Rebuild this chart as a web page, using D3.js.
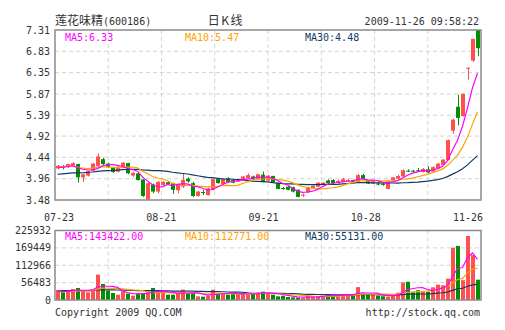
<!DOCTYPE html>
<html>
<head>
<meta charset="utf-8">
<script src="https://cdn.jsdelivr.net/npm/d3@7"></script>
<style>
  html, body { margin: 0; padding: 0; background: #fff; }
  svg { display: block; }
  .mono { font-family: "DejaVu Sans Mono", "Liberation Mono", monospace; font-size: 10px; }
  .cjk { font-family: "Noto Sans CJK SC", sans-serif; font-size: 12px; }
</style>
</head>
<body>
<svg id="chart" width="505" height="330"></svg>
<script>
// 莲花味精 (600186) daily K-line, 2009-07-23 .. 2009-11-26 (85 sessions)
const openP = [
  4.19, 4.24, 4.22, 4.26, 4.29, 3.99, 4.03, 4.14, 4.25, 4.40,
  4.30, 4.21, 4.12, 4.22, 4.31, 4.03, 4.08, 3.94, 3.49, 3.83,
  3.67, 3.82, 3.88, 3.86, 3.70, 3.78, 3.96, 3.86, 3.57, 3.66,
  3.59, 3.71, 3.95, 3.84, 3.97, 3.93, 3.90, 3.93, 3.97, 4.01,
  3.95, 4.05, 3.92, 4.02, 3.86, 3.75, 3.78, 3.77, 3.71, 3.59,
  3.65, 3.74, 3.78, 3.82, 3.92, 3.93, 3.86, 3.89, 3.90, 3.93,
  3.89, 4.04, 3.92, 3.85, 3.85, 3.85, 3.73, 3.93, 3.96, 4.01,
  4.14, 4.14, 4.15, 4.11, 4.17, 4.12, 4.19, 4.27, 4.38, 5.04,
  5.58, 5.37, 6.46, 6.62, 7.31
];
const highP = [
  4.27, 4.27, 4.30, 4.33, 4.30, 4.07, 4.14, 4.31, 4.53, 4.43,
  4.32, 4.23, 4.25, 4.34, 4.32, 4.11, 4.10, 3.95, 3.87, 3.85,
  3.90, 3.91, 3.90, 3.87, 3.85, 4.08, 3.99, 3.89, 3.69, 3.71,
  3.76, 3.96, 3.97, 3.97, 3.99, 3.95, 3.96, 4.02, 4.08, 4.03,
  4.07, 4.12, 4.04, 4.03, 3.87, 3.78, 3.79, 3.78, 3.72, 3.63,
  3.78, 3.81, 3.88, 3.88, 3.94, 3.95, 3.94, 3.98, 3.96, 3.94,
  4.07, 4.07, 3.93, 3.93, 3.89, 3.86, 3.92, 4.00, 4.05, 4.17,
  4.17, 4.16, 4.20, 4.20, 4.24, 4.24, 4.31, 4.40, 4.84, 5.31,
  5.85, 5.88, 6.46, 7.11, 7.31
];
const lowP = [
  4.17, 4.17, 4.20, 4.24, 3.87, 3.89, 4.01, 4.12, 4.22, 4.27,
  4.20, 4.09, 4.10, 4.20, 4.06, 4.00, 3.92, 3.55, 3.48, 3.63,
  3.63, 3.80, 3.82, 3.62, 3.63, 3.75, 3.87, 3.55, 3.56, 3.59,
  3.58, 3.70, 3.85, 3.83, 3.87, 3.86, 3.89, 3.92, 3.96, 3.93,
  3.94, 3.88, 3.90, 3.87, 3.72, 3.71, 3.70, 3.65, 3.54, 3.55,
  3.64, 3.73, 3.77, 3.81, 3.84, 3.84, 3.85, 3.88, 3.89, 3.88,
  3.88, 3.95, 3.84, 3.84, 3.81, 3.80, 3.72, 3.92, 3.95, 4.00,
  4.11, 4.11, 4.11, 4.10, 4.09, 4.11, 4.18, 4.26, 4.37, 4.97,
  5.16, 5.36, 6.19, 6.59, 6.72
];
const closeP = [
  4.25, 4.21, 4.29, 4.31, 3.99, 4.06, 4.13, 4.30, 4.46, 4.29,
  4.22, 4.11, 4.23, 4.32, 4.08, 4.09, 3.93, 3.57, 3.86, 3.67,
  3.89, 3.89, 3.84, 3.71, 3.84, 3.93, 3.90, 3.57, 3.67, 3.65,
  3.74, 3.95, 3.86, 3.95, 3.89, 3.87, 3.94, 4.01, 4.04, 3.95,
  4.06, 3.90, 4.03, 3.88, 3.73, 3.74, 3.71, 3.67, 3.55, 3.60,
  3.77, 3.80, 3.87, 3.87, 3.86, 3.86, 3.91, 3.95, 3.93, 3.89,
  4.04, 3.96, 3.85, 3.91, 3.84, 3.82, 3.90, 3.99, 4.02, 4.15,
  4.13, 4.13, 4.14, 4.18, 4.10, 4.22, 4.30, 4.39, 4.83, 5.29,
  5.33, 5.87, 6.46, 7.11, 6.90
];
const volume = [
  35300, 27100, 30600, 38800, 42400, 32900, 27100, 36500, 89400, 56500,
  32900, 24700, 18800, 30600, 22400, 15300, 22400, 23500, 30600, 42400,
  30600, 24700, 18800, 18800, 24700, 36500, 22400, 23500, 12900, 11800,
  15300, 36500, 22400, 24700, 18800, 24700, 18800, 24700, 18800, 21200,
  25900, 29400, 24700, 18800, 12900, 15300, 10600, 9400, 8200, 7100,
  15300, 12900, 12900, 14100, 21200, 17800, 12200, 20000, 20000, 17800,
  45600, 22200, 17800, 20000, 15600, 13300, 12200, 17800, 25600, 62300,
  64500, 28900, 34500, 28900, 29220, 44700, 54100, 51800, 75300, 184700,
  191000, 70000, 225932, 158500, 71678
];
// sessions before 07-23 that feed the moving averages
const priorClose = [
  3.92, 3.95, 3.98, 4.01, 3.97, 3.94, 3.99, 4.03, 4.02, 3.98,
  4.00, 3.96, 4.01, 4.03, 4.00, 3.93, 3.95, 3.97, 3.98, 3.98,
  4.08, 4.17, 4.25, 4.30, 4.30, 4.24, 4.19, 4.22, 4.20
];
const priorVolume = [
  38000, 31000, 29000, 42000, 36000, 33000, 28000, 35000, 40000, 37000,
  30000, 27000, 34000, 39000, 45000, 36000, 32000, 29000, 31000, 38000,
  41000, 35000, 30000, 33000, 28000, 31000, 26000, 30000, 28000
];
const dateTicks = ["07-23", "08-21", "09-21", "10-28", "11-26"];
const priceTicks = [3.48, 3.96, 4.44, 4.92, 5.39, 5.87, 6.35, 6.83, 7.31];
const volumeTicks = [0, 56483, 112966, 169449, 225932];
const maPeriods = [5, 10, 30];
const maColors = ["#ff00ff", "#ffa200", "#0e3a66"];

const RED = "#ff5050", GREEN = "#008f00";
const svg = d3.select("#chart");
const L = 55, R = 481;
const pTop = 30, pBot = 200;
const vTop = 230.5, vBot = 300;

const n = closeP.length;
const idx = d3.range(n);
const x = d3.scaleBand().domain(idx).range([L, L + 5 * n]).paddingInner(0.2).paddingOuter(0.1);
const cx = i => x(i) + x.bandwidth() / 2;
const yP = d3.scaleLinear().domain([priceTicks[0], priceTicks[priceTicks.length - 1]]).range([pBot, pTop]);
// bars peak a little below the panel top; axis labels split the panel in quarters
const volMax = d3.max(volume);
const yV = d3.scaleLinear().domain([0, volMax]).range([vBot, vTop + 5.5]);
const yVAxis = d3.scaleLinear().domain([0, volumeTicks[volumeTicks.length - 1]]).range([vBot, vTop]);

function movingAvg(prior, vals, p) {
  const all = prior.concat(vals);
  const off = prior.length;
  return vals.map((_, i) => d3.mean(all.slice(off + i - p + 1, off + i + 1)));
}
const priceMA = maPeriods.map(p => movingAvg(priorClose, closeP, p));
const volMA = maPeriods.map(p => movingAvg(priorVolume, volume, p));

const colW = (R - L) / 8;
function panel(top, bot, hTicks) {
  const g = svg.append("g");
  g.selectAll(".vg").data(d3.range(1, 8)).join("line")
    .attr("x1", k => L + k * colW).attr("x2", k => L + k * colW)
    .attr("y1", top).attr("y2", bot)
    .attr("stroke", "#d4d4d4").attr("stroke-dasharray", "4,3");
  g.selectAll(".hg").data(hTicks).join("line")
    .attr("x1", L).attr("x2", R).attr("y1", d => d).attr("y2", d => d)
    .attr("stroke", "#d4d4d4").attr("stroke-dasharray", "4,3");
  return g;
}
panel(pTop, pBot, priceTicks.slice(1, -1).map(yP));
panel(vTop, vBot, volumeTicks.slice(1, -1).map(yVAxis));

// price axis labels
svg.append("g").selectAll("text").data(priceTicks).join("text")
  .attr("class", "mono").attr("x", 50).attr("y", d => yP(d)).attr("dy", "0.36em")
  .attr("text-anchor", "end").attr("fill", "#333").text(d => d.toFixed(2));
// volume axis labels
svg.append("g").selectAll("text").data(volumeTicks).join("text")
  .attr("class", "mono").attr("x", 51).attr("y", d => yVAxis(d)).attr("dy", "0.36em")
  .attr("text-anchor", "end").attr("fill", "#333").text(d => d);
// date labels
const xd = d3.scalePoint().domain(dateTicks).range([59, 468]);
svg.append("g").selectAll("text").data(dateTicks).join("text")
  .attr("class", "mono").attr("x", d => xd(d)).attr("y", 220.5)
  .attr("text-anchor", "middle").attr("fill", "#333").text(d => d);

// candles
const up = i => closeP[i] >= openP[i];
const cg = svg.append("g");
cg.selectAll(".wick").data(idx).join("line")
  .attr("x1", i => Math.round(cx(i)) + 0.5).attr("x2", i => Math.round(cx(i)) + 0.5)
  .attr("y1", i => yP(highP[i])).attr("y2", i => yP(lowP[i]))
  .attr("stroke", i => up(i) ? RED : GREEN).attr("stroke-width", 1);
cg.selectAll(".body").data(idx).join("rect")
  .attr("x", i => Math.round(x(i)))
  .attr("width", Math.round(x.bandwidth()))
  .attr("y", i => yP(Math.max(openP[i], closeP[i])))
  .attr("height", i => Math.max(1, Math.abs(yP(openP[i]) - yP(closeP[i]))))
  .attr("fill", i => up(i) ? RED : GREEN);

// volume bars
svg.append("g").selectAll("rect").data(idx).join("rect")
  .attr("x", i => Math.round(x(i)))
  .attr("width", Math.round(x.bandwidth()))
  .attr("y", i => yV(volume[i]))
  .attr("height", i => vBot - yV(volume[i]))
  .attr("fill", i => up(i) ? RED : GREEN);

// moving-average lines
const linePrice = d3.line().x((d, i) => cx(i)).y(d => yP(d));
const lineVol = d3.line().x((d, i) => cx(i)).y(d => yV(d));
[2, 1, 0].forEach(k => {
  svg.append("path").attr("d", linePrice(priceMA[k])).attr("fill", "none")
    .attr("stroke", maColors[k]).attr("stroke-width", 1.2);
  svg.append("path").attr("d", lineVol(volMA[k])).attr("fill", "none")
    .attr("stroke", maColors[k]).attr("stroke-width", 1.2);
});

// panel frames
[[pTop, pBot], [vTop, vBot]].forEach(([t, b]) => {
  svg.append("rect").attr("x", L).attr("y", t).attr("width", R - L).attr("height", b - t)
    .attr("fill", "none").attr("stroke", "#8a8a8a").attr("stroke-width", 1.5);
});

// MA value captions
const maX = [65, 185, 305];
maPeriods.forEach((p, k) => {
  svg.append("text").attr("class", "mono").attr("x", maX[k]).attr("y", 40.5)
    .attr("fill", maColors[k]).text(`MA${p}:${priceMA[k][n - 1].toFixed(2)}`);
  svg.append("text").attr("class", "mono").attr("x", maX[k]).attr("y", 239.8)
    .attr("fill", maColors[k]).text(`MA${p}:${volMA[k][n - 1].toFixed(2)}`);
});

// header
const title = svg.append("text").attr("x", 55).attr("y", 25).attr("fill", "#333");
title.append("tspan").attr("class", "cjk").text("莲花味精");
title.append("tspan").attr("class", "mono").text("(600186)");
svg.append("text").attr("class", "cjk").attr("x", 226).attr("y", 25)
  .attr("text-anchor", "middle").attr("fill", "#333").attr("letter-spacing", 1.5).text("日K线");
svg.append("text").attr("class", "mono").attr("x", 479).attr("y", 25)
  .attr("text-anchor", "end").attr("fill", "#333").text("2009-11-26 09:58:22");

// footer
svg.append("text").attr("class", "mono").attr("x", 55).attr("y", 315.5)
  .attr("fill", "#333").text("Copyright 2009 QQ.COM");
svg.append("text").attr("class", "mono").attr("x", 480).attr("y", 315.5)
  .attr("text-anchor", "end").attr("fill", "#333").text("http://stock.qq.com");
</script>
</body>
</html>
